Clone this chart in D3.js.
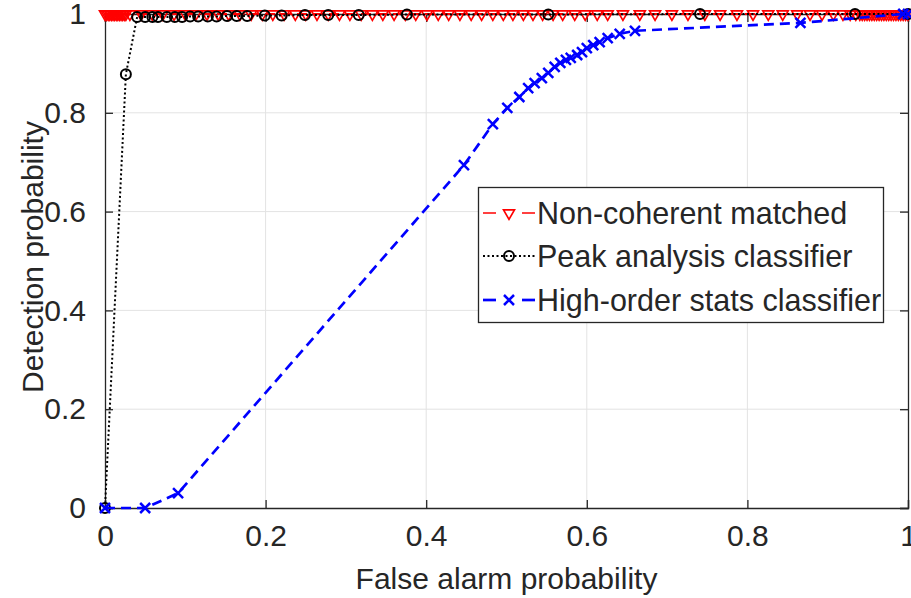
<!DOCTYPE html>
<html><head><meta charset="utf-8">
<script src="https://cdn.jsdelivr.net/npm/d3@7"></script>
<style>
body{margin:0;background:#fff;}
svg text{font-family:"Liberation Sans",Arial,sans-serif;fill:#262626;}
</style></head>
<body><svg id="c" width="911" height="598"></svg>
<script>
// ---- data ----
const xTicks = [0, 0.2, 0.4, 0.6, 0.8, 1];
const yTicks = [0, 0.2, 0.4, 0.6, 0.8, 1];
const seriesNames = ["Non-coherent matched", "Peak analysis classifier", "High-order stats classifier"];

const ncX = [0,0.002,0.004,0.006,0.008,0.010,0.012,0.014,0.016,0.018,0.020,0.022,0.024,0.026,
  0.031,0.045,0.059,0.072,0.086,0.100,0.113,0.127,0.141,0.154,0.168,0.182,0.196,0.209,0.223,0.237,
  0.250,0.264,0.278,0.292,0.305,0.319,0.333,0.346,0.360,0.374,0.387,0.401,0.415,0.428,0.442,0.456,
  0.469,0.483,0.496,0.508,0.521,0.533,0.545,0.558,0.570,0.585,0.598,0.613,0.626,0.645,0.666,0.685,
  0.706,0.726,0.747,0.766,0.787,0.807,0.826,0.844,0.862,0.878,0.893,0.907,0.919,0.928,0.935,
  0.940,0.943,0.946,0.949,0.952,0.955,0.958,0.961,0.964,0.967,0.970,0.973,0.976,0.979,0.982,0.985,
  0.988,0.991,0.994,0.997,1.000];
const ncY = ncX.map(() => 1);

const peakX = [0, 0.026, 0.040, 0.050, 0.059, 0.066, 0.077, 0.087, 0.096, 0.106, 0.116, 0.128, 0.139,
  0.152, 0.164, 0.177, 0.199, 0.220, 0.249, 0.278, 0.316, 0.376, 0.552, 0.741, 0.934, 1.0];
const peakY = [0, 0.878, 0.994, 0.994, 0.994, 0.994, 0.994, 0.994, 0.994, 0.995, 0.995, 0.995, 0.995,
  0.996, 0.996, 0.996, 0.997, 0.997, 0.998, 0.998, 0.998, 0.999, 0.999, 1.0, 1.0, 1.0];

const hosX = [0, 0.050, 0.091, 0.447, 0.483, 0.501, 0.516, 0.527, 0.535, 0.544, 0.552, 0.560, 0.567,
  0.574, 0.580, 0.588, 0.594, 0.600, 0.608, 0.616, 0.626, 0.641, 0.660, 0.866, 0.994, 1.0];
const hosY = [0, 0, 0.030, 0.694, 0.777, 0.810, 0.832, 0.850, 0.860, 0.870, 0.881, 0.893, 0.901,
  0.907, 0.911, 0.917, 0.923, 0.931, 0.937, 0.943, 0.951, 0.960, 0.966, 0.982, 1.0, 1.0];

// ---- chart ----
const svg = d3.select("#c");
const x = d3.scaleLinear().domain([0, 1]).range([105, 908]);
const y = d3.scaleLinear().domain([0, 1]).range([508, 14]);
const axisCol = "#262626";
const fmt = d3.format("~g");
const FS = "30px";

// grid
const g = svg.append("g");
g.selectAll("line.gx").data(xTicks.slice(1, -1)).join("line")
  .attr("x1", d => x(d)).attr("x2", d => x(d)).attr("y1", y(0)).attr("y2", y(1))
  .attr("stroke", "#e3e3e3").attr("stroke-width", 1);
g.selectAll("line.gy").data(yTicks.slice(1, -1)).join("line")
  .attr("y1", d => y(d)).attr("y2", d => y(d)).attr("x1", x(0)).attr("x2", x(1))
  .attr("stroke", "#e3e3e3").attr("stroke-width", 1);

// axes
const ax = svg.append("g").attr("transform", `translate(0,${y(0)})`)
  .call(d3.axisBottom(x).tickValues(xTicks).tickFormat(fmt).tickSize(-8).tickPadding(17));
const axT = svg.append("g").attr("transform", `translate(0,${y(1)})`)
  .call(d3.axisTop(x).tickValues(xTicks).tickFormat("").tickSize(-8));
const ay = svg.append("g").attr("transform", `translate(${x(0)},0)`)
  .call(d3.axisLeft(y).tickValues(yTicks).tickFormat(fmt).tickSize(-8).tickPadding(19));
const ayR = svg.append("g").attr("transform", `translate(${x(1)},0)`)
  .call(d3.axisRight(y).tickValues(yTicks).tickFormat("").tickSize(-8));
[ax, axT, ay, ayR].forEach(a => {
  a.selectAll("path").attr("stroke", axisCol).attr("stroke-width", 1.3);
  a.selectAll("line").attr("stroke", axisCol).attr("stroke-width", 1.3);
  a.selectAll("text").style("font-size", FS).attr("fill", axisCol)
    .style("font-family", '"Liberation Sans",Arial,sans-serif');
});
ax.selectAll("text").attr("dy", "0.71em");

// axis labels
svg.append("text").attr("x", (x(0) + x(1)) / 2).attr("y", 589).attr("text-anchor", "middle")
  .style("font-size", FS).text("False alarm probability");
svg.append("text").attr("transform", `translate(43,${(y(0) + y(1)) / 2 - 4}) rotate(-90)`)
  .attr("text-anchor", "middle").style("font-size", FS).text("Detection probability");

// series
const lineGen = d3.line().x(d => x(d[0])).y(d => y(d[1]));
const ncData = d3.zip(ncX, ncY), peakData = d3.zip(peakX, peakY), hosData = d3.zip(hosX, hosY);

const tri = d3.symbol().type(d3.symbolTriangle).size(52);
function drawTri(sel, cx, cy) {
  sel.append("path").attr("d", tri())
    .attr("transform", `translate(${cx},${cy}) rotate(180)`)
    .attr("fill", "none").attr("stroke", "#ff0000").attr("stroke-width", 1.7);
}
function drawCircle(sel, cx, cy) {
  sel.append("circle").attr("cx", cx).attr("cy", cy).attr("r", 5)
    .attr("fill", "none").attr("stroke", "#000").attr("stroke-width", 2);
}
function drawX(sel, cx, cy) {
  const s = 5;
  sel.append("path").attr("d", `M${cx - s},${cy - s}L${cx + s},${cy + s}M${cx - s},${cy + s}L${cx + s},${cy - s}`)
    .attr("stroke", "#0000ff").attr("stroke-width", 2.5).attr("fill", "none");
}

// Non-coherent matched
const s1 = svg.append("g");
s1.append("path").datum(ncData).attr("d", lineGen).attr("fill", "none")
  .attr("stroke", "#ff0000").attr("stroke-width", 2).attr("stroke-dasharray", "10,6");
ncData.forEach(d => drawTri(s1, x(d[0]), y(d[1])));

// Peak analysis
const s2 = svg.append("g");
s2.append("path").datum(peakData).attr("d", lineGen).attr("fill", "none")
  .attr("stroke", "#000").attr("stroke-width", 2).attr("stroke-dasharray", "2,2.5");
peakData.forEach(d => drawCircle(s2, x(d[0]), y(d[1])));

// High-order stats
const s3 = svg.append("g");
s3.append("path").datum(hosData).attr("d", lineGen).attr("fill", "none")
  .attr("stroke", "#0000ff").attr("stroke-width", 2.7).attr("stroke-dasharray", "10,6");
hosData.forEach(d => drawX(s3, x(d[0]), y(d[1])));

// legend
const lg = svg.append("g");
lg.append("rect").attr("x", 478.5).attr("y", 187.5).attr("width", 405).attr("height", 135)
  .attr("fill", "#fff").attr("stroke", axisCol).attr("stroke-width", 1.3);
const rows = [213, 256, 300];
const styles = [
  {c: "#ff0000", w: 1.5, dash: "10,6", m: drawTri},
  {c: "#000", w: 2, dash: "2,2.5", m: drawCircle},
  {c: "#0000ff", w: 2.7, dash: "10,6", m: drawX}
];
rows.forEach((ry, i) => {
  const st = styles[i];
  if (i === 1) {
    lg.append("line").attr("x1", 483).attr("x2", 535).attr("y1", ry).attr("y2", ry)
      .attr("stroke", st.c).attr("stroke-width", st.w).attr("stroke-dasharray", st.dash);
  } else {
    lg.append("line").attr("x1", 483).attr("x2", 496).attr("y1", ry).attr("y2", ry)
      .attr("stroke", st.c).attr("stroke-width", st.w);
    lg.append("line").attr("x1", 522).attr("x2", 535).attr("y1", ry).attr("y2", ry)
      .attr("stroke", st.c).attr("stroke-width", st.w);
  }
  st.m(lg, 509, ry);
  lg.append("text").attr("x", 537).attr("y", ry).attr("dy", "0.35em")
    .style("font-size", "30.5px").attr("fill", "#000").text(seriesNames[i]);
});
</script></body></html>
